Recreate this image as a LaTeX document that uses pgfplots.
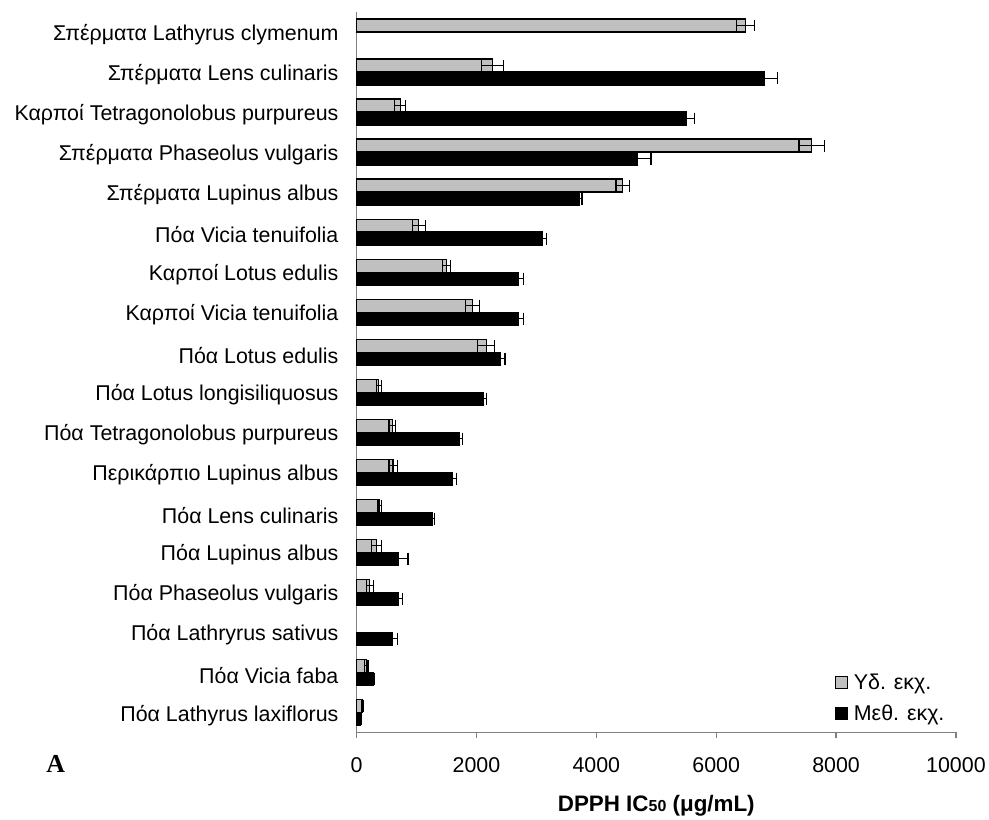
\documentclass[border=0pt]{standalone}
\usepackage{pgfplots}
\pgfplotsset{compat=1.18}
\usepackage{fontspec}
\setmainfont{Liberation Sans}
\newfontfamily\seriffont{Liberation Serif}
\definecolor{barGray}{HTML}{C0C0C0}
\definecolor{axGray}{HTML}{808080}
\begin{document}
\begin{tikzpicture}
\begin{axis}[
  scale only axis,
  width=600bp, height=721bp,
  xmin=0, xmax=10000,
  ymin=-0.5, ymax=17.5,
  axis x line*=bottom, axis y line*=left,
  axis line style={axGray, line width=1.3bp, -},
  xtick={0,2000,...,10000},
  scaled x ticks=false,
  /pgf/number format/.cd, 1000 sep={}, assume math mode=true, /pgfplots/.cd,
  tick align=outside,
  major tick length=6bp,
  xtick style={axGray, line width=1.3bp},
  ytick style={draw=none},
  xticklabel style={font=\fontsize{21.5}{24}\selectfont, yshift=-16bp},
  ytick={0,...,17},
  yticklabels={
    Πόα Lathyrus laxiflorus,
    Πόα Vicia faba,
    Πόα Lathryrus sativus,
    Πόα Phaseolus vulgaris,
    Πόα Lupinus albus,
    Πόα Lens culinaris,
    Περικάρπιο Lupinus albus,
    Πόα Tetragonolobus purpureus,
    Πόα Lotus longisiliquosus,
    Πόα Lotus edulis,
    Καρποί Vicia tenuifolia,
    Καρποί Lotus edulis,
    Πόα Vicia tenuifolia,
    Σπέρματα Lupinus albus,
    Σπέρματα Phaseolus vulgaris,
    Καρποί Tetragonolobus purpureus,
    Σπέρματα Lens culinaris,
    Σπέρματα Lathyrus clymenum},
  yticklabel style={font=\fontsize{21.5}{24}\selectfont, anchor=east, inner sep=0pt, xshift=-12bp, yshift=-3bp},
  xlabel={\bfseries DPPH IC{\fontsize{16}{16}\selectfont 50} (μg/mL)},
  xlabel style={font=\fontsize{22.5}{24}\selectfont, yshift=-16bp},
  xbar, bar width=13bp,
  clip=false,
  legend style={draw=none, fill=none, inner sep=0pt, outer sep=0pt,
    at={(rel axis cs:0.798,0.083)}, anchor=north west,
    font=\fontsize{21.5}{24}\selectfont, row sep=10bp},
  legend cell align=left,
]
\addplot[fill=barGray, draw=black, line width=1.1bp, bar shift=6.5bp,
  error bars/.cd, x dir=both, x explicit, error mark=|,
  error bar style={black, line width=1.2bp},
  error mark options={black, line width=1.2bp, mark size=6bp},
  /pgfplots/.cd,
  legend image code/.code={\draw[fill=barGray, draw=black, line width=1bp] (0bp,-6bp) rectangle (12bp,6bp); \path (16bp,0bp);}]
coordinates {
  (94,0) +- (17,0)
  (161,1) +- (28,0)
  (222,3) +- (61,0)
  (336,4) +- (86,0)
  (389,5) +- (33,0)
  (608,6) +- (69,0)
  (592,7) +- (53,0)
  (372,8) +- (44,0)
  (2164,9) +- (142,0)
  (1933,10) +- (117,0)
  (1497,11) +- (69,0)
  (1039,12) +- (111,0)
  (4439,13) +- (111,0)
  (7597,14) +- (214,0)
  (728,15) +- (89,0)
  (2264,16) +- (186,0)
  (6483,17) +- (150,0)
};
\addlegendentry{Υδ. εκχ.}
\addplot[fill=black, draw=black, line width=1.1bp, bar shift=-6.5bp,
  error bars/.cd, x dir=both, x explicit, error mark=|,
  error bar style={black, line width=1.2bp},
  error mark options={black, line width=1.2bp, mark size=6bp},
  /pgfplots/.cd,
  legend image code/.code={\draw[fill=black, draw=black, line width=1bp] (0bp,-6bp) rectangle (12bp,6bp); \path (16bp,0bp);}]
coordinates {
  (67,0) +- (10,0)
  (283,1) +- (10,0)
  (594,2) +- (83,0)
  (706,3) +- (56,0)
  (706,4) +- (150,0)
  (1272,5) +- (28,0)
  (1606,6) +- (56,0)
  (1717,7) +- (56,0)
  (2117,8) +- (44,0)
  (2394,9) +- (83,0)
  (2706,10) +- (78,0)
  (2706,11) +- (78,0)
  (3094,12) +- (78,0)
  (3717,13) +- (44,0)
  (4694,14) +- (217,0)
  (5511,15) +- (133,0)
  (6800,16) +- (222,0)
};
\addlegendentry{Μεθ. εκχ.}
\node[font=\fontsize{26}{28}\selectfont\seriffont\bfseries, anchor=center] at (rel axis cs:-0.502,-0.0444) {A};
\coordinate (sw) at (rel axis cs:0,0);
\coordinate (ne) at (rel axis cs:1,1);
\end{axis}
\path ([shift={(-357bp,-83bp)}]sw) rectangle ([shift={(32bp,12bp)}]ne);
\end{tikzpicture}
\end{document}
